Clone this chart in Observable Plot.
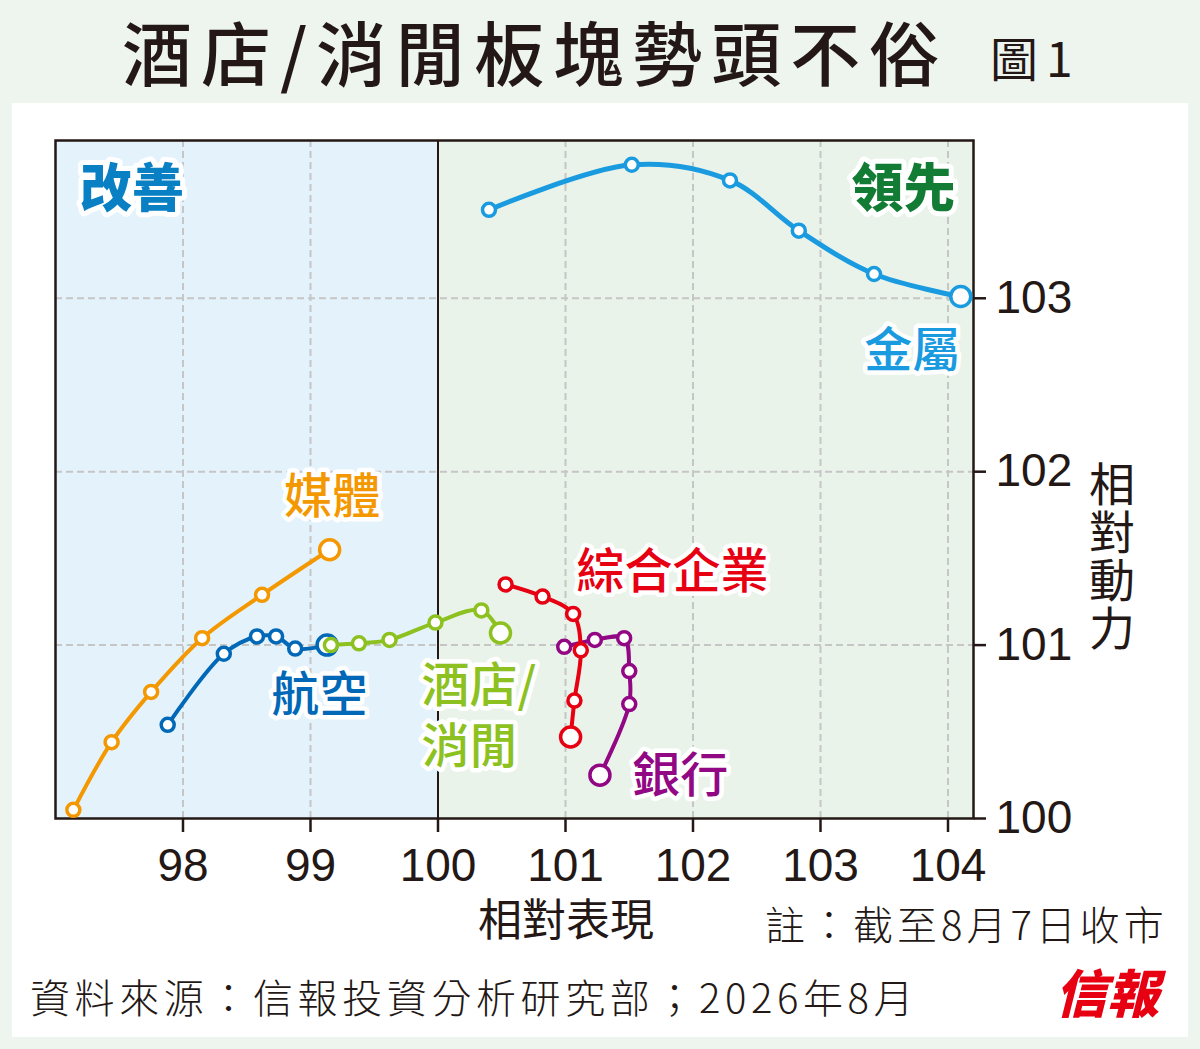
<!DOCTYPE html>
<html><head><meta charset="utf-8">
<script src="https://cdn.jsdelivr.net/npm/d3@7"></script>
<script src="https://cdn.jsdelivr.net/npm/@observablehq/plot@0.6"></script>
<style>
html,body{margin:0;padding:0;background:#eef5ee;}
#page{position:relative;width:1200px;height:1049px;background:#eef5ee;overflow:hidden;font-family:"Noto Sans CJK TC","Noto Sans",sans-serif;color:#231815;}
#panel{position:absolute;left:12px;top:103px;width:1176px;height:934px;background:#fff;}
#chart{position:absolute;left:0;top:103px;}
.t{position:absolute;white-space:nowrap;line-height:1.2;}
#title{left:122px;top:0px;font-size:70px;font-weight:500;letter-spacing:9px;line-height:normal;}
#fig{left:990px;top:28px;font-size:48px;font-weight:400;letter-spacing:8px;}
#xlab{left:478px;top:895px;font-size:44px;font-weight:400;line-height:1;}
#note{left:765px;top:899px;font-size:40px;font-weight:300;letter-spacing:4px;}
#src{left:30px;top:972px;font-size:40px;font-weight:300;letter-spacing:4.6px;}
#logo{left:1055px;top:960px;font-size:52px;font-weight:900;color:#e60012;font-style:italic;}
#ylab{left:1089px;top:461px;font-size:46px;font-weight:400;writing-mode:vertical-rl;text-orientation:upright;letter-spacing:2px;line-height:1;}
</style></head>
<body>
<div id="page">
  <div id="panel"></div>
  <div id="title" class="t">酒店/消閒板塊勢頭不俗</div>
  <div id="fig" class="t">圖1</div>
  <div id="chart"></div>
  <div id="xlab" class="t">相對表現</div>
  <div id="note" class="t">註：截至8月7日收市</div>
  <div id="src" class="t">資料來源：信報投資分析研究部；2026年8月</div>
  <div id="logo" class="t">信報</div>
  <div id="ylab" class="t">相對動力</div>
</div>
<script>
// ---- data ----
const sectors = ["金屬", "媒體", "航空", "酒店/消閒", "銀行", "綜合企業"];
const sectorColors = ["#1a9be0", "#f39800", "#0068b7", "#8cc11f", "#920783", "#e60012"];

const rsMetals = [100.40, 101.52, 102.29, 102.83, 103.42, 104.10];
const momMetals = [103.51, 103.77, 103.68, 103.39, 103.14, 103.01];
const rsMedia = [97.14, 97.44, 97.75, 98.15, 98.62, 99.15];
const momMedia = [100.05, 100.44, 100.73, 101.04, 101.29, 101.55];
const rsAviation = [97.88, 98.32, 98.58, 98.73, 98.88, 99.13];
const momAviation = [100.54, 100.95, 101.05, 101.05, 100.98, 101.00];
const rsHotels = [99.16, 99.38, 99.62, 99.98, 100.34, 100.49];
const momHotels = [101.00, 101.01, 101.03, 101.13, 101.20, 101.07];
const rsBanks = [100.99, 101.23, 101.46, 101.50, 101.50, 101.27];
const momBanks = [100.99, 101.03, 101.04, 100.85, 100.66, 100.25];
const rsConglom = [100.53, 100.82, 101.06, 101.12, 101.07, 101.04];
const momConglom = [101.35, 101.28, 101.18, 100.97, 100.68, 100.47];

const labelText = ["金屬", "媒體", "航空", "酒店/", "消閒", "銀行", "綜合企業"];
const labelSector = [0, 1, 2, 3, 3, 4, 5];
const labelX = [103.72, 99.17, 99.07, 99.87, 99.87, 101.90, 101.84];
const labelY = [102.69, 101.85, 100.71, 100.76, 100.41, 100.24, 101.42];
const labelAnchor = ["middle", "middle", "middle", "start", "start", "middle", "middle"];

const quadText = ["改善", "領先"];
const quadX = [97.60, 103.65];
const quadY = [103.62, 103.62];
const quadColors = ["#0a80c4", "#127c35"];

const zoneX1 = [97, 100];
const zoneX2 = [100, 104.2];
const zoneFill = ["#e4f2fb", "#e9f3ea"];

const xDomain = [97, 104.2];
const yDomain = [100, 103.91];
const xTicks = [98, 99, 100, 101, 102, 103, 104];
const yTicks = [100, 101, 102, 103];
const centre = 100;

// ---- build ----
const rsAll = [rsMetals, rsMedia, rsAviation, rsHotels, rsBanks, rsConglom];
const momAll = [momMetals, momMedia, momAviation, momHotels, momBanks, momConglom];

const seriesMarks = sectors.flatMap((name, i) => {
  const pts = rsAll[i].map((x, j) => ({x, y: momAll[i][j], last: j === rsAll[i].length - 1}));
  const c = sectorColors[i];
  return [
    Plot.line(pts, {x: "x", y: "y", stroke: c, strokeWidth: i === 0 ? 5 : 4, curve: "catmull-rom"}),
    Plot.dot(pts.filter(d => !d.last), {x: "x", y: "y", r: 6.5, fill: "white", stroke: c, strokeWidth: 3.5}),
    Plot.dot(pts.filter(d => d.last), {x: "x", y: "y", r: 10, fill: "white", stroke: c, strokeWidth: 3.5})
  ];
});

const zones = zoneX1.map((x1, i) => ({x1, x2: zoneX2[i], y1: yDomain[0], y2: yDomain[1], fill: zoneFill[i]}));
const labels = labelText.map((t, i) => ({t, x: labelX[i], y: labelY[i], c: sectorColors[labelSector[i]], a: labelAnchor[i]}));
const quads = quadText.map((t, i) => ({t, x: quadX[i], y: quadY[i], c: quadColors[i]}));

const gridStyle = {stroke: "#c6c6c6", strokeOpacity: 1, strokeWidth: 2, strokeDasharray: "7,4"};

const chart = Plot.plot({
  width: 1200, height: 850,
  marginLeft: 55, marginRight: 227, marginTop: 37, marginBottom: 135,
  style: {background: "transparent", fontFamily: "'Liberation Sans', Arial, sans-serif", fontSize: "46px", color: "#231815"},
  x: {domain: xDomain},
  y: {domain: yDomain},
  marks: [
    ...zones.map(z => Plot.rect([z], {x1: "x1", x2: "x2", y1: "y1", y2: "y2", fill: z.fill})),
    Plot.gridX({ticks: xTicks.filter(d => d !== centre), ...gridStyle}),
    Plot.gridY({ticks: yTicks.filter(d => d !== yDomain[0]), ...gridStyle}),
    Plot.ruleX([centre], {stroke: "#231815", strokeWidth: 2}),
    Plot.frame({stroke: "#231815", strokeWidth: 2.5}),
    Plot.axisX({ticks: xTicks, tickFormat: d => String(d), tickSize: 14, tickPadding: 16, label: null, strokeWidth: 2.5, fontSize: 46}),
    Plot.axisY({ticks: yTicks, tickFormat: d => String(d), anchor: "right", tickSize: 12, tickPadding: 10, label: null, strokeWidth: 2.5, fontSize: 46}),
    ...seriesMarks,
    ...labels.map(l => Plot.text([l], {x: "x", y: "y", text: "t", fill: l.c, stroke: "white", strokeWidth: 9, strokeLinejoin: "round",
      fontSize: 48, fontWeight: 500, fontFamily: "Noto Sans CJK TC", textAnchor: l.a})),
    ...quads.map(q => Plot.text([q], {x: "x", y: "y", text: "t", fill: q.c, stroke: "white", strokeWidth: 10, strokeLinejoin: "round",
      fontSize: 52, fontWeight: 900, fontFamily: "Noto Sans CJK TC"}))
  ]
});
document.getElementById("chart").appendChild(chart);
</script>
</body></html>
